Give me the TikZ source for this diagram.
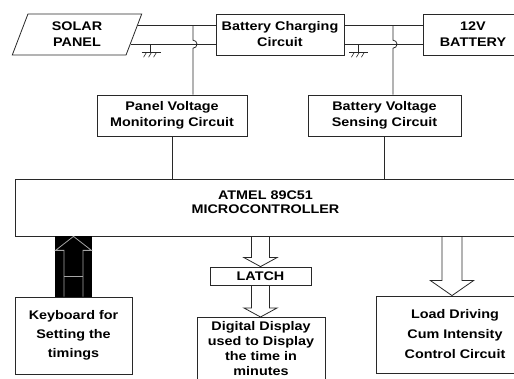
\documentclass[tikz,border=0pt]{standalone}
\usepackage{fontspec}
\setmainfont{Liberation Sans}[FakeStretch=1.15]
\usetikzlibrary{calc,positioning,shapes.geometric}
\definecolor{wire}{RGB}{40,40,40}
% hollow block arrow: [style]{from}{tip}{shaft half}{head half}{head offset}
\newcommand{\fatarrow}[6][]{%
  \draw[fat,#1] ($(#2)+(-#4,0)$) -- ($(#3)+(-#4,#6)$) -- ($(#3)+(-#5,#6)$) -- (#3)
    -- ($(#3)+(#5,#6)$) -- ($(#3)+(#4,#6)$) -- ($(#2)+(#4,0)$);}

\begin{document}
\begin{tikzpicture}[x=1pt,y=-1pt,
  txt/.style={align=center,inner sep=0pt,font=\bfseries\fontsize{12.5}{16}\selectfont},
  blk/.style={txt,draw=wire,line width=.8pt},
  fat/.style={draw=wire,line width=.8pt,line join=miter},
  lnk/.style={wire,line width=.8pt}]
\useasboundingbox (0,0) rectangle (514,379);
\clip (0,0) rectangle (514,379);

% top row
\node[blk,trapezium,trapezium left angle=72,trapezium right angle=108,trapezium stretches=true,
  minimum width=130,minimum height=41] (solar) at (77,34.5) {SOLAR\\PANEL};
\node[blk,minimum width=128,minimum height=41] (charge) at (280,34.5) {Battery Charging\\Circuit};
\node[blk,minimum width=100,minimum height=41] (batt) at (473,34.5) {12V\\BATTERY};

\coordinate (w1) at ($(solar.top right corner)!.293!(solar.bottom right corner)$);
\coordinate (w2) at ($(solar.top right corner)!.732!(solar.bottom right corner)$);
\draw[lnk] (w1) -- ($(charge.north west)!.293!(charge.south west)$);
\draw[lnk] (w2) -- ($(charge.north west)!.732!(charge.south west)$);
\coordinate (w3) at ($(charge.north east)!.293!(charge.south east)$);
\coordinate (w4) at ($(charge.north east)!.732!(charge.south east)$);
\draw[lnk] (w3) -- ($(batt.north west)!.293!(batt.south west)$);
\draw[lnk] (w4) -- ($(batt.north west)!.732!(batt.south west)$);

% sensing row
\node[blk,minimum width=150,minimum height=41] (pvm) at (172,115.5) {Panel Voltage\\Monitoring Circuit};
\node[blk,minimum width=153,minimum height=41] (bsc) at (384.5,115.5) {Battery Voltage\\Sensing Circuit};

\coordinate (tapL) at ($(pvm.north)+(21,0)$);
\coordinate (tapR) at ($(bsc.north)+(8.5,0)$);
\foreach \t/\a/\b in {tapL/w1/w2,tapR/w3/w4}
  \draw[lnk] (\t |- \a) -- ($(\t |- \b)+(0,-4)$) arc[start angle=-90,end angle=90,radius=4] -- (\t);

% grounds
\coordinate (gL) at ($(w2)+(20,0)$);
\coordinate (gR) at ($(w4)+(14,0)$);
\foreach \g in {gL,gR}{
  \draw[lnk] (\g) -- ++(0,8) coordinate (gnd);
  \draw[lnk] ($(gnd)+(-9,0)$) -- ++(19,0);
  \foreach \d in {-4,1,6} \draw[lnk,line width=.6pt] ($(gnd)+(\d,0)$) -- ++(-3,5);
}

% controller
\node[blk,minimum width=501,minimum height=57] (mcu) at (265.5,207.5) {};
\node[txt,font=\bfseries\fontsize{12.5}{13.5}\selectfont] (mcutxt) at ($(mcu.center)+(0,-5.5)$) {ATMEL 89C51\\MICROCONTROLLER};
\draw[lnk] (pvm.south) -- (pvm.south |- mcu.north);
\draw[lnk] (bsc.south) -- (bsc.south |- mcu.north);

% bottom row
\node[blk,minimum width=117,minimum height=77,font=\bfseries\fontsize{12.5}{19}\selectfont] (kbd) at (73.5,335.5) {Keyboard for\\Setting the\\timings};
\node[blk,minimum width=101,minimum height=18] (latch) at (260.5,276) {LATCH};
\node[blk,minimum width=128,minimum height=80,anchor=north] (disp) at (261,317) {};
\node[txt,font=\bfseries\fontsize{12.5}{15}\selectfont,anchor=north] (disptxt) at ($(disp.north)+(0,4)$) {Digital Display\\used to Display\\the time in\\minutes};
\node[blk,minimum width=158,minimum height=77,font=\bfseries\fontsize{12.5}{20}\selectfont] (load) at (455,334.5) {Load Driving\\Cum Intensity\\Control Circuit};

% block arrows
\coordinate (a1) at (latch.north |- mcu.south);
\fatarrow{a1}{latch.north}{9}{16.5}{-9}
\coordinate (a2) at (latch.south |- disp.north);
\fatarrow{latch.south}{a2}{9}{16.5}{-9}
\coordinate (a3) at ($(load.north)+(-3,0)$);
\coordinate (a4) at (a3 |- mcu.south);
\fatarrow{a4}{a3}{10}{21.5}{-15}
\coordinate (k1) at (kbd.north |- mcu.south);
\fill ($(kbd.north)+(-18.5,0)$) rectangle ($(k1)+(18.5,0)$);
\fatarrow[draw=gray!70]{kbd.north}{k1}{9.5}{18}{14}
\draw[gray!70,line width=.8pt] ($(kbd.north)+(-9.5,-20)$) -- ++(19,0);
\end{tikzpicture}
\end{document}
